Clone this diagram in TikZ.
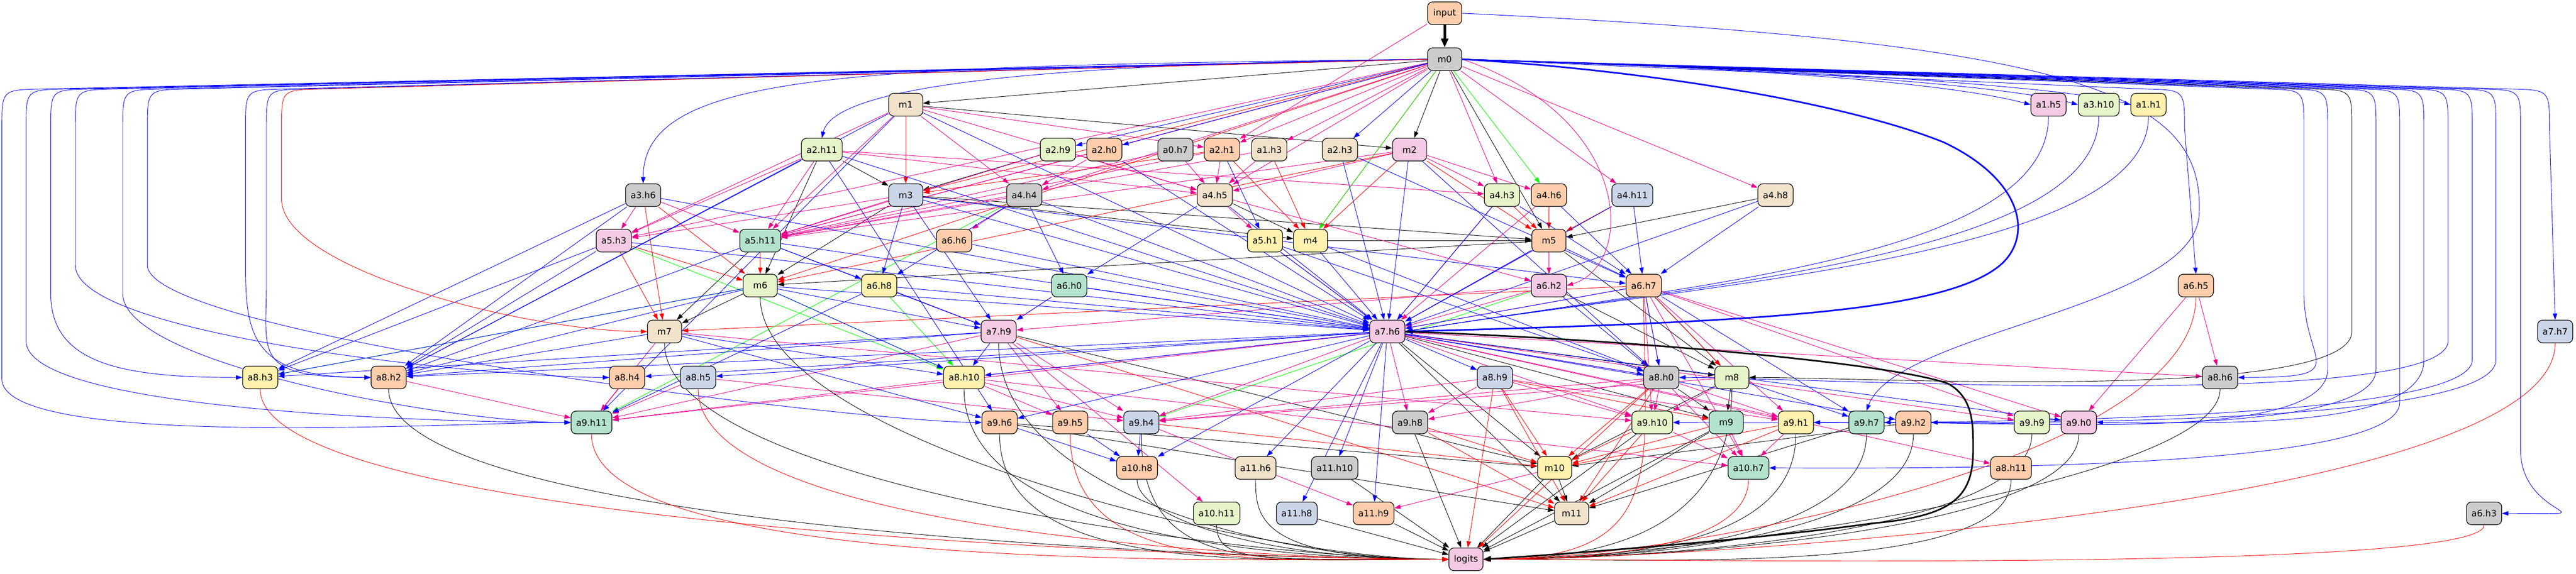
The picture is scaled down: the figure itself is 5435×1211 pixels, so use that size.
\documentclass[tikz,border=0pt]{standalone}
\usepackage{fontspec}
\setmainfont{DejaVu Sans}
\usepackage{tikz}
\usetikzlibrary{arrows.meta}
\pgfdeclarelayer{edgeLayer}
\pgfsetlayers{edgeLayer,main}
\tikzstyle{circuit} = [x = 0.75pt, y = -0.75pt]
\definecolor{pastelGreen}{HTML}{B3E2CD}
\definecolor{pastelOrange}{HTML}{FDCDAC}
\definecolor{pastelBlue}{HTML}{CBD5E8}
\definecolor{pastelPink}{HTML}{F4CAE4}
\definecolor{pastelLime}{HTML}{E6F5C9}
\definecolor{pastelYellow}{HTML}{FFF2AE}
\definecolor{pastelTan}{HTML}{F1E2CC}
\definecolor{pastelGrey}{HTML}{CCCCCC}
\tikzstyle{headStyle} = [draw=black, line width=1pt, rounded corners=8pt, minimum height=36pt, minimum width=54pt, inner xsep=8pt, font=\fontsize{14}{16}\selectfont]
\tikzstyle{edgeStyle} = [line width=0.75pt, -{Triangle[length=10pt, width=7pt]}]
\tikzstyle{blueEdge} = [edgeStyle, color=blue]
\tikzstyle{magentaEdge} = [edgeStyle, color=magenta]
\tikzstyle{redEdge} = [edgeStyle, color=red]
\tikzstyle{greenEdge} = [edgeStyle, color=green]
\tikzstyle{blackEdge} = [edgeStyle, color=black]
\newcommand{\headNode}[5]{\node [headStyle, fill=#5] (#1) at (#2, #3) {#4};}
\newcommand{\edgeList}[2]{\foreach \fromNode/\toNode in {#2} {\draw [#1] (\fromNode) -- (\toNode);}}
\newcommand{\logitsLeft}[3]{\foreach \fromNode in {#3} {\draw [#1] (\fromNode.south) .. controls +(0, #2) and +(-400, 0) .. (logits.west);}}
\newcommand{\logitsRight}[3]{\foreach \fromNode in {#3} {\draw [#1] (\fromNode.south) .. controls +(0, #2) and +(400, 0) .. (logits.east);}}
\newcommand{\leftLoop}[4]{\draw [#1] (m0.west) -- (#2 + 80, 188) .. controls (#2, 190) .. (#2, 270) -- (#2, #4) .. controls +(0, 150) and +(-250, 0) .. (#3.west);}
\newcommand{\rightLoop}[4]{\draw [#1] (m0.east) -- (#2 - 80, 188) .. controls (#2, 190) .. (#2, 270) -- (#2, #4) .. controls +(0, 150) and +(250, 0) .. (#3.east);}
\begin{document}
\begin{tikzpicture}[circuit]
\useasboundingbox (0,0) rectangle (5435,1211);
% nodes, row by row
\headNode{input}{3048}{28}{input}{pastelOrange}
\headNode{m0}{3048}{125}{m0}{pastelGrey}
\headNode{m1}{1911}{221}{m1}{pastelTan}\headNode{a1h5}{4322}{221}{a1.h5}{pastelPink}\headNode{a3h10}{4428}{221}{a3.h10}{pastelLime}\headNode{a1h1}{4533}{221}{a1.h1}{pastelYellow}
\headNode{a2h11}{1734}{316}{a2.h11}{pastelLime}\headNode{a2h9}{2232}{316}{a2.h9}{pastelLime}\headNode{a2h0}{2330}{316}{a2.h0}{pastelOrange}\headNode{a0h7}{2480}{316}{a0.h7}{pastelGrey}
\headNode{a2h1}{2578}{316}{a2.h1}{pastelOrange}\headNode{a1h3}{2678}{316}{a1.h3}{pastelTan}\headNode{a2h3}{2827}{316}{a2.h3}{pastelTan}\headNode{m2}{2974}{316}{m2}{pastelPink}
\headNode{a3h6}{1357}{412}{a3.h6}{pastelGrey}\headNode{m3}{1911}{412}{m3}{pastelBlue}\headNode{a4h4}{2161}{412}{a4.h4}{pastelGrey}\headNode{a4h5}{2563}{412}{a4.h5}{pastelTan}
\headNode{a4h3}{3169}{412}{a4.h3}{pastelLime}\headNode{a4h6}{3268}{412}{a4.h6}{pastelOrange}\headNode{a4h11}{3444}{412}{a4.h11}{pastelBlue}\headNode{a4h8}{3746}{412}{a4.h8}{pastelTan}
\headNode{a5h3}{1295}{508}{a5.h3}{pastelPink}\headNode{a5h11}{1604}{508}{a5.h11}{pastelGreen}\headNode{a6h6}{2013}{508}{a6.h6}{pastelOrange}\headNode{a5h1}{2669}{508}{a5.h1}{pastelYellow}
\headNode{m4}{2765}{508}{m4}{pastelYellow}\headNode{m5}{3268}{508}{m5}{pastelOrange}
\headNode{m6}{1604}{603}{m6}{pastelLime}\headNode{a6h8}{1855}{603}{a6.h8}{pastelYellow}\headNode{a6h0}{2256}{603}{a6.h0}{pastelGreen}\headNode{a6h2}{3268}{603}{a6.h2}{pastelPink}
\headNode{a6h7}{3468}{603}{a6.h7}{pastelOrange}\headNode{a6h5}{4633}{603}{a6.h5}{pastelOrange}
\headNode{m7}{1402}{700}{m7}{pastelTan}\headNode{a7h9}{2107}{700}{a7.h9}{pastelPink}\headNode{a7h6}{2927}{700}{a7.h6}{pastelPink}\headNode{a7h7}{5391}{700}{a7.h7}{pastelBlue}
\headNode{a8h3}{549}{797}{a8.h3}{pastelYellow}\headNode{a8h2}{820}{797}{a8.h2}{pastelOrange}\headNode{a8h4}{1323}{797}{a8.h4}{pastelOrange}\headNode{a8h5}{1473}{797}{a8.h5}{pastelBlue}
\headNode{a8h10}{2034}{797}{a8.h10}{pastelYellow}\headNode{a8h9}{3154}{797}{a8.h9}{pastelBlue}\headNode{a8h0}{3505}{797}{a8.h0}{pastelGrey}\headNode{m8}{3654}{797}{m8}{pastelLime}\headNode{a8h6}{4684}{797}{a8.h6}{pastelGrey}
\headNode{a9h11}{1248}{892}{a9.h11}{pastelGreen}\headNode{a9h6}{2109}{892}{a9.h6}{pastelOrange}\headNode{a9h5}{2258}{892}{a9.h5}{pastelOrange}\headNode{a9h4}{2408}{892}{a9.h4}{pastelBlue}
\headNode{a9h8}{2975}{892}{a9.h8}{pastelGrey}\headNode{a9h10}{3486}{892}{a9.h10}{pastelLime}\headNode{m9}{3642}{892}{m9}{pastelGreen}\headNode{a9h1}{3789}{892}{a9.h1}{pastelYellow}
\headNode{a9h7}{3938}{892}{a9.h7}{pastelGreen}\headNode{a9h2}{4037}{892}{a9.h2}{pastelOrange}\headNode{a9h9}{4287}{892}{a9.h9}{pastelLime}\headNode{a9h0}{4386}{892}{a9.h0}{pastelPink}
\headNode{a10h8}{2399}{988}{a10.h8}{pastelOrange}\headNode{a11h6}{2649}{988}{a11.h6}{pastelTan}\headNode{a11h10}{2816}{988}{a11.h10}{pastelGrey}\headNode{m10}{3280}{988}{m10}{pastelYellow}
\headNode{a10h7}{3689}{988}{a10.h7}{pastelGreen}\headNode{a8h11}{4243}{988}{a8.h11}{pastelOrange}
\headNode{a10h11}{2567}{1084}{a10.h11}{pastelLime}\headNode{a11h8}{2736}{1084}{a11.h8}{pastelBlue}\headNode{a11h9}{2898}{1084}{a11.h9}{pastelOrange}\headNode{m11}{3316}{1084}{m11}{pastelTan}\headNode{a6h3}{5241}{1084}{a6.h3}{pastelGrey}
\headNode{logits}{3093}{1181}{logits}{pastelPink}
% edges, kept under the nodes
\begin{pgfonlayer}{edgeLayer}
\edgeList{blackEdge}{m0/m1, m0/m2, m1/m2, a2h11/m3, a2h9/m3, a4h5/m4, m3/m4, m0/m5, m3/m5, m4/m5, a4h8/m5, m3/m6, m5/m6, a2h11/m6, m6/m7, a5h11/m7, a7h6/m8, m5/m8, a6h7/m8, a6h2/m8, a7h6/m9, m8/m9, a8h0/m9, a7h6/m10, m8/m10, a9h2/m10, a9h6/m10, a7h9/m10, a9h6/m11, a7h6/m11, m9/m11, m10/m11, a9h7/m11}
\edgeList{redEdge}{m1/m3, a2h1/m3, a2h1/m4, m2/m4, a1h3/m4, m0/m4, a4h3/m5, a4h6/m5, a4h11/m5, m2/m5, a5h3/m6, a3h6/m6, a5h11/m6, m2/m6, a5h3/m7, a3h6/m7, a6h7/m7, a8h9/m9, a9h8/m10, a8h9/m10, a8h0/m10, m9/m10, a9h10/m10, a9h1/m10, a9h4/m10, a8h9/m11, a9h10/m11, a8h0/m11, a9h8/m11, a9h1/m11, a7h9/m11, a6h7/m8, m0/m3, m0/m6}
\edgeList{greenEdge}{m0/a4h6, m0/m4, m6/a8h3, a6h8/a8h10, m6/a8h10, a6h2/a9h4, a5h3/a8h10, a4h4/a9h11}
\edgeList{magentaEdge}{input/a2h1, m0/a2h1, m1/a2h1, m0/a1h3, m1/a4h4, m0/a4h4, a2h0/a4h4, m1/a4h5, a2h11/a4h5, a2h9/a4h5, a0h7/a4h5, a2h1/a4h5, a1h3/a4h5, m2/a4h5, m0/a4h5, m0/a5h3, m1/a5h3, a3h6/a5h3, a2h11/a5h3, m3/a5h3, m1/a5h11, m0/a5h11, a2h11/a5h11, a3h6/a5h11, a2h9/a5h11, a2h0/a5h11, a2h1/a5h11, a4h4/a5h11, m3/a5h11, a1h3/a5h11, m2/a5h11, a0h7/a5h11, a4h4/a6h6, a4h5/a5h1, m0/a4h3, m2/a4h3, a2h11/a4h3, m2/a4h6, m0/a4h11, m0/a4h8, m5/a6h2, a4h5/a6h2, a6h8/a7h9, a6h2/a7h9, a6h0/a7h9, a6h7/a7h6, a6h2/a7h6, m5/a7h6, a4h6/a7h6, a5h1/a7h6, a4h3/a7h6, a6h5/a8h6, a7h6/a8h6, a7h6/a8h10, a7h6/a8h0, a6h7/a8h0, a8h2/a9h11, a8h4/a9h11, a7h9/a9h11, a8h5/a9h11, a8h10/a9h11, a7h6/a9h11, m7/a9h11, a8h10/a9h5, a7h9/a9h5, a8h10/a9h4, a7h9/a9h4, a8h5/a9h4, a7h6/a9h4, m8/a9h4, a8h0/a9h4, a8h9/a9h4, a7h6/a9h8, a8h0/a9h8, a8h9/a9h8, a8h9/a9h10, a8h0/a9h10, a7h6/a9h10, m8/a9h10, a6h7/a9h10, m7/a9h10, a8h0/a9h1, a6h7/a9h1, a8h9/a9h1, a7h6/a9h1, a6h7/a9h9, a7h6/a9h9, a6h7/a9h0, a6h5/a9h0, a9h10/a10h7, m9/a10h7, a9h1/a10h7, a8h0/a10h7, a6h7/a10h7, a8h10/a10h7, a7h6/a8h11, a7h9/a10h11, m10/a11h9, a9h4/a11h9}
\edgeList{blueEdge}{m0/a2h9, m0/a2h0, m0/a2h3, a2h1/a5h1, a5h11/a6h8, m3/a6h8, a4h4/a6h8, a4h4/a6h0, a4h5/a6h0, m5/a6h7, a4h6/a6h7, a4h3/a6h7, a4h11/a6h7, m3/a6h7, a4h8/a6h7, a6h0/a7h9, a6h8/a7h9, m6/a7h9, m3/a7h9, a5h11/a7h9, a5h11/a7h6, m6/a7h6, m3/a7h6, a4h4/a7h6, a5h3/a7h6, a4h5/a7h6, a6h0/a7h6, a6h8/a7h6, m4/a7h6, m5/a7h6, a4h3/a7h6, a6h7/a7h6, a3h6/a7h6, a2h11/a7h6, a5h1/a7h6, a4h11/a7h6, a4h8/a7h6, m2/a7h6, a2h3/a7h6, a6h6/a7h6, a2h0/a7h6, m1/a7h6, m6/a8h3, a5h3/a8h3, a7h9/a8h3, a3h6/a8h3, m6/a8h2, m7/a8h2, a5h11/a8h2, a5h3/a8h2, a7h9/a8h2, a7h6/a8h2, a3h6/a8h2, m1/a8h2, a2h11/a8h2, a7h6/a8h4, a7h6/a8h5, a7h9/a8h10, m6/a8h10, a7h6/a8h10, m7/a8h10, a7h6/a8h9, a7h6/a8h0, a6h7/a8h0, a5h1/a8h0, a6h2/a8h0, m4/a8h0, a7h6/a9h6, m7/a9h6, a6h8/a9h11, m1/a9h11, a7h6/a9h2, a6h7/a9h7, m8/a9h7, a7h6/a9h0, a9h5/a10h8, a9h4/a10h8, a9h6/a10h8, a7h6/a10h8, a7h6/a11h6, a7h6/a11h10, a7h6/a11h8, a7h6/a11h9, a2h3/a6h7, m2/a8h0, a2h11/a9h6}
% into logits
\logitsLeft{blackEdge}{300}{a8h2, m7, m6, a7h9, a8h10, a9h6, a9h4}
\logitsLeft{blackEdge}{80}{a10h8, a11h6, a10h11}
\logitsLeft{redEdge}{300}{a8h3, a9h11, a8h5, a9h5}
\edgeList{blackEdge}{a11h10/logits, a11h8/logits, a11h9/logits, m10/logits, a9h8/logits, m11/logits, a9h10/logits, m9/logits}
\edgeList{redEdge}{a8h9/logits, a8h0/logits}
\logitsRight{blackEdge}{200}{a9h1, a9h7, a9h2, a9h9, a9h0, a8h11, a8h6, m8}
\logitsRight{redEdge}{100}{a10h7, a6h3}
\logitsRight{redEdge}{350}{a6h5, a7h7, a6h7}
% long curves from m0 and input
\draw [blueEdge] (m0.west) .. controls (2200,135) and (1760,180) .. (a2h11.north);
\draw [blueEdge] (m0.west) .. controls (1800,140) and (1357,150) .. (a3h6.north);
\foreach \rightHead in {a1h5, a3h10, a1h1} {\draw [blueEdge] (m0.east) .. controls +(700, 20) and +(-150, -40) .. (\rightHead.west);}
\foreach \rightHead in {a1h5, a3h10, a1h1} {\draw [blueEdge] (\rightHead.south) .. controls +(0, 300) and +(600, -100) .. (a7h6.east);}
\draw [magentaEdge] (m0.east) .. controls (3450,250) and (3450,560) .. (a6h2.east);
\draw [blueEdge] (input.east) .. controls (4400,90) and (4650,200) .. (4640,450) .. controls (4635,650) and (4000,700) .. (a9h7.north);
\leftLoop{blueEdge}{4}{a9h11}{800}\leftLoop{blueEdge}{55}{a9h11}{720}\leftLoop{blueEdge}{107}{a8h3}{620}\leftLoop{blueEdge}{159}{a8h4}{560}\leftLoop{blueEdge}{259}{a9h11}{620}
\leftLoop{blueEdge}{311}{a9h6}{560}\leftLoop{blueEdge}{518}{a8h2}{560}\leftLoop{blueEdge}{562}{a8h2}{600}\leftLoop{redEdge}{594}{m7}{420}
\rightLoop{blueEdge}{4861}{a8h6}{620}\rightLoop{blueEdge}{4911}{a9h2}{780}\rightLoop{blackEdge}{4962}{m8}{700}\rightLoop{blueEdge}{5013}{a9h7}{780}\rightLoop{blueEdge}{5063}{a10h7}{850}
\rightLoop{blueEdge}{5114}{a9h0}{760}\rightLoop{blueEdge}{5165}{a8h0}{720}\rightLoop{blueEdge}{5216}{a9h10}{760}\rightLoop{blueEdge}{5266}{a9h1}{760}\rightLoop{blueEdge}{5318}{a6h3}{950}
\draw [blueEdge] (m0.east) -- (4529,188) .. controls (4609,190) .. (4609,270) -- (a6h5.north);
\draw [blueEdge] (m0.east) -- (5299,188) .. controls (5379,190) .. (5379,270) -- (a7h7.north);
% heavy edges
\draw [blackEdge, line width=4pt, -{Triangle[length=14pt, width=11pt]}] (input) -- (m0);
\draw [blueEdge, line width=2.5pt, -{Triangle[length=12pt, width=9pt]}] (m0.east) .. controls (3500,150) and (3900,220) .. (4100,300) .. controls (4270,380) and (4290,500) .. (4220,560) .. controls (4100,660) and (3700,680) .. (a7h6.east);
\draw [blackEdge, line width=2.5pt, -{Triangle[length=12pt, width=9pt]}] (a7h6.east) .. controls (3500,720) and (4000,770) .. (4110,810) .. controls (4165,840) and (4163,900) .. (4163,950) .. controls (4163,1050) and (4120,1090) .. (3950,1105) .. controls (3700,1140) and (3300,1170) .. (logits.east);
\end{pgfonlayer}
\end{tikzpicture}
\end{document}
